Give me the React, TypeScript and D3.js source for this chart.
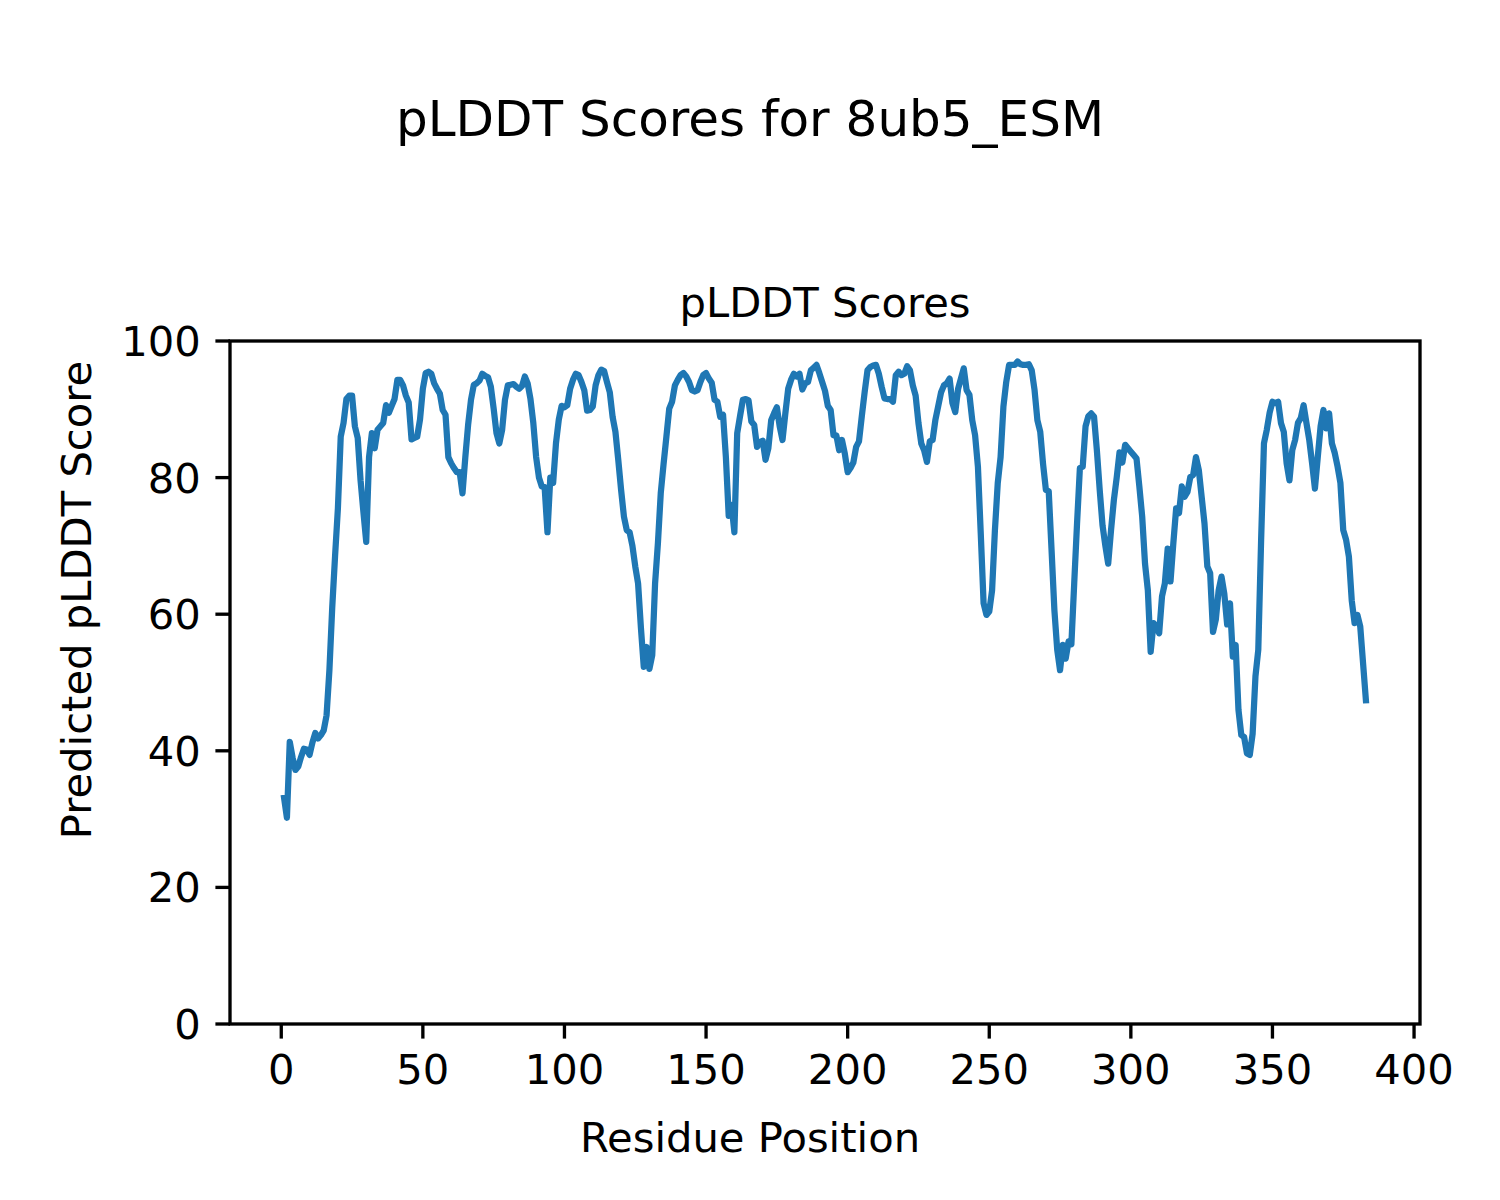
import React from "react";
import * as d3 from "d3";

// pLDDT score per residue (residues 1..383)
const plddt: number[] = [
  33.1, 30.2, 41.3, 39, 37.2, 37.7, 39.1, 40.3, 40.2, 39.4, // 1-10
  41.2, 42.6, 41.8, 42.3, 43.0, 45.2, 51.8, 61, 68.5, 75.5, // 11-20
  86, 88, 91.5, 92, 92, 87.5, 85.8, 79.6, 75, 70.6, // 21-30
  83, 86.5, 84.3, 87, 87.5, 88, 90.6, 89.5, 90.5, 91.5, // 31-40
  94.3, 94.3, 93.5, 92, 91, 85.6, 85.8, 86, 88.5, 93, // 41-50
  95.3, 95.5, 95.2, 93.8, 93, 92.3, 89.9, 89.2, 83, 82.1, // 51-60
  81.4, 80.8, 80.8, 77.7, 83, 87.8, 91.4, 93.6, 93.8, 94.2, // 61-70
  95.2, 94.9, 94.7, 93.3, 90.1, 86.5, 85, 87, 91.4, 93.5, // 71-80
  93.6, 93.7, 93.3, 93, 93.4, 94.8, 93.8, 91.5, 88, 83, // 81-90
  80, 78.7, 78.6, 72, 80, 79.2, 85, 88.5, 90.5, 90.3, // 91-100
  90.6, 93, 94.3, 95.2, 95, 94, 92.8, 89.8, 89.9, 90.4, // 101-110
  93.5, 95, 95.8, 95.6, 94, 92.5, 88.9, 86.7, 82.6, 78.2, // 111-120
  74.3, 72.3, 72, 70, 67, 64.5, 58, 52.3, 55.2, 52, // 121-130
  54, 64.5, 70.4, 77.7, 82, 86, 90.1, 91.1, 93.5, 94.3, // 131-140
  95, 95.3, 94.8, 94, 92.8, 92.6, 92.8, 94, 95, 95.3, // 141-150
  94.5, 93.9, 91.4, 91.1, 88.9, 89.2, 83, 74.4, 76, 72, // 151-160
  86.5, 89, 91.4, 91.5, 91.3, 88.2, 87.7, 84.5, 85.2, 85.4, // 161-170
  82.6, 84.3, 88.4, 89.4, 90.3, 87.5, 85.5, 89.4, 93, 94.3, // 171-180
  95.2, 94.8, 95.2, 92.9, 93.8, 94, 95.7, 96.1, 96.5, 95.3, // 181-190
  94, 92.7, 90.5, 89.9, 86.2, 86.2, 84, 85.5, 83.5, 80.8, // 191-200
  81.4, 82.2, 84.5, 85.3, 89, 92.5, 95.7, 96.2, 96.4, 96.5, // 201-210
  95.2, 93.3, 91.6, 91.5, 91.5, 91.1, 95, 95.5, 95, 95.2, // 211-220
  96.3, 95.7, 93.5, 92, 88, 85, 84, 82.3, 85.3, 85.5, // 221-230
  88.5, 90.5, 92.5, 93.5, 93.8, 94.5, 90.9, 89.6, 93, 94.5, // 231-240
  96, 92.8, 92.1, 88.4, 86.2, 81.6, 71.8, 61.6, 59.9, 60.4, // 241-250
  63.5, 72.3, 79.2, 83, 90.4, 94, 96.5, 96.5, 96.5, 97, // 251-260
  96.6, 96.5, 96.5, 96.6, 95.7, 92.8, 88.4, 86.7, 82, 78.2, // 261-270
  78, 69.4, 60.6, 54.8, 51.8, 55.5, 53.5, 56, 55.6, 64.5, // 271-280
  73.3, 81.4, 81.6, 87.5, 89, 89.4, 88.9, 84, 78.2, 73, // 281-290
  70, 67.4, 72.3, 76.7, 80, 83.7, 82.2, 84.8, 84.3, 83.8, // 291-300
  83.3, 82.8, 78.7, 74.3, 67.4, 63.5, 54.5, 58.7, 58.2, 57.2, // 301-310
  62.6, 64.5, 69.6, 64.8, 70.4, 75.5, 74.8, 78.7, 77.2, 77.9, // 311-320
  80.1, 80.4, 83, 81.1, 77.2, 73.3, 67, 66, 57.4, 59.2, // 321-330
  63.5, 65.5, 63, 58.5, 61.6, 53.8, 55.5, 46, 42.3, 42, // 331-340
  39.6, 39.4, 42.5, 50.9, 54.8, 70.9, 85, 87, 89.5, 91.1, // 341-350
  90.9, 91.1, 88, 86.7, 82.1, 79.6, 84, 85.5, 88, 88.7, // 351-360
  90.6, 88, 85.5, 82.1, 78.4, 83, 87.5, 89.9, 87.2, 89.4, // 361-370
  85, 83.6, 81.6, 79.2, 72.3, 70.9, 68.4, 62, 58.7, 59.9, // 371-380
  58.2, 52.8, 47.4, // 381-383
];

const xTicks: number[] = [0, 50, 100, 150, 200, 250, 300, 350, 400];
const yTicks: number[] = [0, 20, 40, 60, 80, 100];

const figTitle = "pLDDT Scores for 8ub5_ESM";
const axTitle = "pLDDT Scores";
const xLabel = "Residue Position";
const yLabel = "Predicted pLDDT Score";

export default function App() {
  const W = 1500;
  const H = 1200;
  const left = 230;
  const right = 1420;
  const top = 341;
  const bottom = 1024;
  const font = "'DejaVu Sans', sans-serif";
  const fs = 41.7;
  const tickLen = 14.6;
  const pad = 14.6;

  const data = plddt.map((v, i) => ({ r: i + 1, v }));
  const n = data.length;
  const span = data[n - 1].r - data[0].r;
  const x = d3
    .scaleLinear()
    .domain([data[0].r - span * 0.05, data[n - 1].r + span * 0.05])
    .range([left, right]);
  const y = d3.scaleLinear().domain([0, 100]).range([bottom, top]);

  const line = d3
    .line<{ r: number; v: number }>()
    .x((d) => x(d.r))
    .y((d) => y(d.v));

  return (
    <svg
      width={W}
      height={H}
      style={{ position: "absolute", left: 0, top: 0, background: "#fff" }}
      fontFamily={font}
    >
      <rect x={0} y={0} width={W} height={H} fill="#fff" />
      <text x={750} y={136} textAnchor="middle" fontSize={50} fill="#000">
        {figTitle}
      </text>
      <text x={(left + right) / 2} y={317} textAnchor="middle" fontSize={fs} fill="#000">
        {axTitle}
      </text>

      <path
        d={line(data) || ""}
        fill="none"
        stroke="#1f77b4"
        strokeWidth={6.25}
        strokeLinejoin="round"
        strokeLinecap="square"
      />

      {/* spines */}
      <rect
        x={left}
        y={top}
        width={right - left}
        height={bottom - top}
        fill="none"
        stroke="#000"
        strokeWidth={3.33}
        strokeLinejoin="miter"
      />

      {/* x ticks */}
      {xTicks.map((t) => (
        <g key={"x" + t}>
          <line x1={x(t)} x2={x(t)} y1={bottom} y2={bottom + tickLen} stroke="#000" strokeWidth={3.33} />
          <text x={x(t)} y={bottom + tickLen + pad + 31} textAnchor="middle" fontSize={fs} fill="#000">
            {t}
          </text>
        </g>
      ))}

      {/* y ticks */}
      {yTicks.map((t) => (
        <g key={"y" + t}>
          <line x1={left - tickLen} x2={left} y1={y(t)} y2={y(t)} stroke="#000" strokeWidth={3.33} />
          <text
            x={left - tickLen - pad}
            y={y(t) + 15}
            textAnchor="end"
            fontSize={fs}
            fill="#000"
          >
            {t}
          </text>
        </g>
      ))}

      <text x={750} y={1152} textAnchor="middle" fontSize={fs} fill="#000">
        {xLabel}
      </text>
      <text
        transform={`translate(91,600) rotate(-90)`}
        textAnchor="middle"
        fontSize={fs}
        fill="#000"
      >
        {yLabel}
      </text>
    </svg>
  );
}
